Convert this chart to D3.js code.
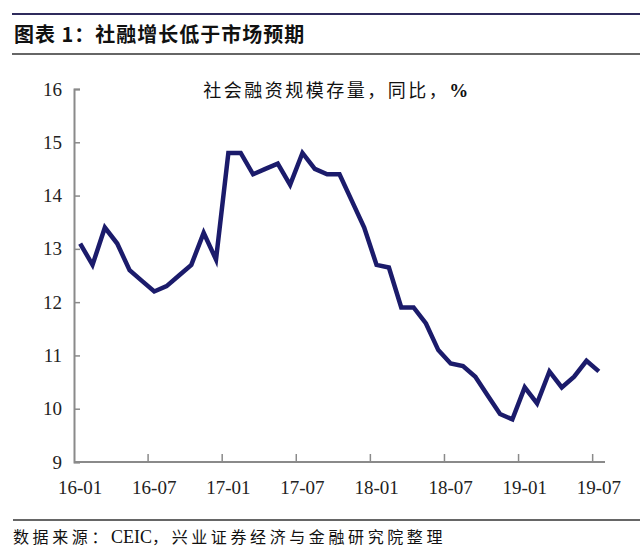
<!DOCTYPE html>
<html>
<head>
<meta charset="utf-8">
<script src="https://cdn.jsdelivr.net/npm/d3@7"></script>
<style>
  body { margin: 0; background: #fff; }
</style>
</head>
<body>
<script>
// months shown on the axis, one per point
var months = [
  "16-01","16-02","16-03","16-04","16-05","16-06","16-07","16-08","16-09","16-10","16-11","16-12",
  "17-01","17-02","17-03","17-04","17-05","17-06","17-07","17-08","17-09","17-10","17-11","17-12",
  "18-01","18-02","18-03","18-04","18-05","18-06","18-07","18-08","18-09","18-10","18-11","18-12",
  "19-01","19-02","19-03","19-04","19-05","19-06","19-07"
];

// 社会融资规模存量同比, %
var tsfGrowth = [
  13.1, 12.7, 13.4, 13.1, 12.6, 12.4, 12.2, 12.3, 12.5, 12.7, 13.3, 12.8,
  14.8, 14.8, 14.4, 14.5, 14.6, 14.2, 14.8, 14.5, 14.4, 14.4, 13.9, 13.4,
  12.7, 12.65, 11.9, 11.9, 11.6, 11.1, 10.85, 10.8, 10.6, 10.25, 9.9, 9.8,
  10.4, 10.1, 10.7, 10.4, 10.6, 10.9, 10.7
];

var xTickLabels = ["16-01","16-07","17-01","17-07","18-01","18-07","19-01","19-07"];
var yTicks = [9, 10, 11, 12, 13, 14, 15, 16];

var width = 640, height = 550;
var margin = {top: 89, left: 74, right: 35, bottom: 88};

var svg = d3.select("body")
  .append("svg")
  .attr("width", width)
  .attr("height", height);

// header / footer rules
svg.append("line").attr("x1", 12).attr("x2", 640).attr("y1", 14).attr("y2", 14)
  .attr("stroke", "#2f2b5c").attr("stroke-width", 2);
svg.append("line").attr("x1", 12).attr("x2", 640).attr("y1", 54).attr("y2", 54)
  .attr("stroke", "#333").attr("stroke-width", 1.5);
svg.append("line").attr("x1", 13).attr("x2", 640).attr("y1", 520).attr("y2", 520)
  .attr("stroke", "#333").attr("stroke-width", 1.5);

svg.append("text")
  .attr("x", 14).attr("y", 42)
  .style("font-family", "'Noto Sans CJK SC', sans-serif")
  .style("font-size", "20px")
  .style("font-weight", "bold")
  .style("letter-spacing", "1px")
  .attr("fill", "#111")
  .text("图表 1：社融增长低于市场预期");

// source note: CJK parts spaced out, latin part not
var source = svg.append("text")
  .attr("x", 13).attr("y", 543)
  .style("font-family", "'Liberation Serif', 'Noto Sans CJK SC', serif")
  .style("font-size", "16px")
  .attr("fill", "#111");
source.append("tspan").style("letter-spacing", "3.6px").text("数据来源：");
source.append("tspan").style("font-size", "18px").text("CEIC");
source.append("tspan").style("letter-spacing", "3.6px").text("，兴业证券经济与金融研究院整理");

// scales
var xScale = d3.scaleBand()
  .domain(months)
  .range([margin.left, width - margin.right])
  .padding(0);

var yScale = d3.scaleLinear()
  .domain([9, 16])
  .range([height - margin.bottom, margin.top]);

var axisColor = "#8a8a8a";

// y axis (ticks inside)
var yAxis = svg.append("g")
  .attr("transform", "translate(" + margin.left + ",0)")
  .call(d3.axisRight(yScale).tickValues(yTicks).tickSize(6).tickFormat(d3.format("d")));
yAxis.select(".domain").attr("stroke", axisColor).attr("stroke-width", 2);
yAxis.selectAll(".tick line").attr("stroke", axisColor).attr("stroke-width", 1.5);
yAxis.selectAll(".tick text")
  .attr("x", -12).attr("text-anchor", "end")
  .style("font-family", "'Liberation Serif', serif")
  .style("font-size", "19px")
  .attr("fill", "#222");

// x axis: ticks on category boundaries, labels centred on categories
var xAxisG = svg.append("g")
  .attr("transform", "translate(0," + (height - margin.bottom) + ")");
xAxisG.append("line")
  .attr("x1", margin.left).attr("x2", width - margin.right)
  .attr("stroke", axisColor).attr("stroke-width", 2);
xAxisG.selectAll(".xtick")
  .data(xTickLabels.slice(1))
  .enter()
  .append("line")
    .attr("x1", function(d) { return xScale(d); })
    .attr("x2", function(d) { return xScale(d); })
    .attr("y1", 0).attr("y2", -8)
    .attr("stroke", axisColor).attr("stroke-width", 1.5);
xAxisG.selectAll(".xlabel")
  .data(xTickLabels)
  .enter()
  .append("text")
    .attr("x", function(d) { return xScale(d) + xScale.bandwidth() / 2; })
    .attr("y", 32)
    .attr("text-anchor", "middle")
    .style("font-family", "'Liberation Serif', serif")
    .style("font-size", "19px")
    .attr("fill", "#222")
    .text(function(d) { return d; });

// chart caption
var caption = svg.append("text")
  .attr("x", 337).attr("y", 97)
  .attr("text-anchor", "middle")
  .style("font-family", "'Liberation Serif', 'Noto Sans CJK SC', serif")
  .style("font-size", "18px")
  .style("letter-spacing", "2.5px")
  .attr("fill", "#111");
caption.append("tspan").text("社会融资规模存量，同比，");
caption.append("tspan").style("font-weight", "bold").style("font-size", "19px").text("%");

// the line
var line = d3.line()
  .x(function(d, i) { return xScale(months[i]) + xScale.bandwidth() / 2; })
  .y(function(d) { return yScale(d); });

svg.append("path")
  .datum(tsfGrowth)
  .attr("d", line)
  .attr("fill", "none")
  .attr("stroke", "#1b1b6b")
  .attr("stroke-width", 4.5)
  .attr("stroke-linejoin", "miter");
</script>
</body>
</html>
